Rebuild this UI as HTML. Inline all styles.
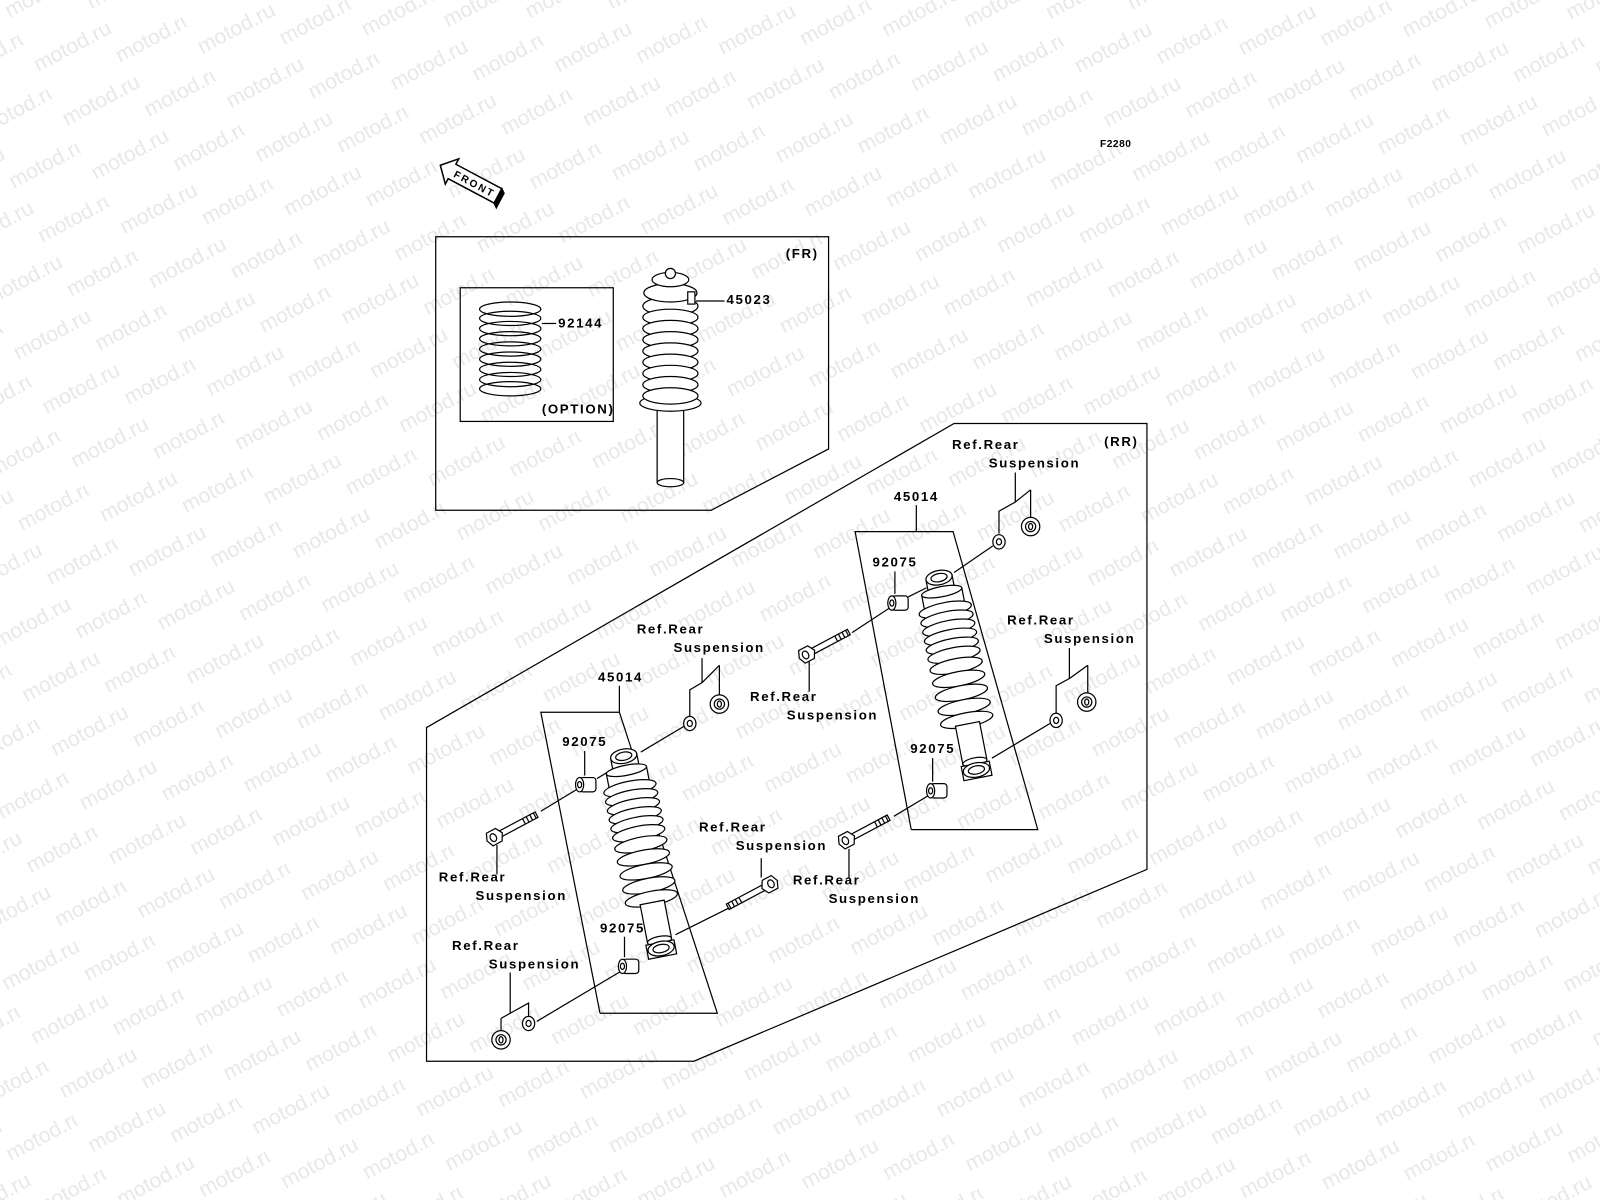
<!DOCTYPE html>
<html><head><meta charset="utf-8"><style>
html,body{margin:0;padding:0;background:#fff;width:1600px;height:1200px;overflow:hidden}
svg{display:block}
.t{font-family:"Liberation Sans",sans-serif;font-weight:bold;font-size:13px;letter-spacing:1.6px;fill:#000}
.wm{font-family:"Liberation Sans",sans-serif;font-size:21px;fill:#e8e8e8}
</style></head><body>
<svg width="1600" height="1200" viewBox="0 0 1568 1176" xmlns="http://www.w3.org/2000/svg">
<defs>
<pattern id="wmp" width="150" height="60" patternUnits="userSpaceOnUse" patternTransform="rotate(-28)">
<text class="wm" x="0" y="20">motod.ru</text>
<text class="wm" x="75" y="50">motod.ru</text>
</pattern>
<g id="shock" fill="#fff" stroke="#000" stroke-width="1.2">
<rect x="-11" y="150" width="22" height="32"/>
<rect x="-13" y="-4" width="26" height="12"/>
<ellipse cx="0" cy="-4" rx="13" ry="7"/>
<ellipse cx="0" cy="-4" rx="8" ry="4"/>
<rect x="-20" y="10" width="40" height="14"/>
<ellipse cx="0" cy="10" rx="20" ry="5"/>
<g>
<ellipse cx="0" cy="28" rx="26" ry="7"/><ellipse cx="0" cy="37" rx="26" ry="7"/>
<ellipse cx="0" cy="46" rx="26" ry="7"/><ellipse cx="0" cy="55" rx="26" ry="7"/>
<ellipse cx="0" cy="64" rx="26" ry="7"/><ellipse cx="0" cy="73" rx="26" ry="7"/>
<ellipse cx="0" cy="84" rx="26" ry="7"/><ellipse cx="0" cy="97" rx="26" ry="7"/>
<ellipse cx="0" cy="111" rx="26" ry="7"/><ellipse cx="0" cy="125" rx="26" ry="7"/>
<ellipse cx="0" cy="138" rx="26" ry="7"/>
</g>
<rect x="-12" y="142" width="24" height="38"/>
<ellipse cx="0" cy="180" rx="12" ry="4"/>
<rect x="-14" y="182" width="28" height="14"/>
<ellipse cx="0" cy="188" rx="13" ry="7"/>
<ellipse cx="0" cy="188" rx="8" ry="4"/>
</g>
<g id="bush" fill="#fff" stroke="#000" stroke-width="1.2">
<rect x="-8" y="-7" width="16" height="14" rx="3"/>
<ellipse cx="-8" cy="0" rx="4" ry="7"/>
<ellipse cx="-8" cy="0" rx="2" ry="3"/>
</g>
<g id="washer" fill="#fff" stroke="#000" stroke-width="1.2">
<ellipse cx="0" cy="0" rx="6" ry="7"/><ellipse cx="0" cy="0" rx="2.5" ry="3"/>
</g>
<g id="nut" fill="#fff" stroke="#000" stroke-width="1.2">
<ellipse cx="0" cy="0" rx="9" ry="9"/><ellipse cx="0" cy="0" rx="5" ry="5"/><ellipse cx="0" cy="0" rx="2" ry="3"/>
</g>
<g id="bolt" fill="#fff" stroke="#000" stroke-width="1.2">
<path d="M0,-3 L44,-3 L44,3 L0,3 Z"/>
<path d="M30,-3 L30,3 M34,-3 L34,3 M38,-3 L38,3 M42,-3 L42,3" />
<polygon points="-8,-7 2,-7 6,0 2,7 -8,7 -11,0"/>
<ellipse cx="-4" cy="0" rx="3" ry="4"/>
</g>
</defs>
<rect width="1568" height="1176" fill="#fff"/>
<rect width="1568" height="1176" fill="url(#wmp)"/>

<!-- FRONT arrow -->
<g transform="translate(458,176) rotate(28)" stroke="#000" stroke-width="1.5">
<polygon points="-30,0 -17,-14 -17,-8 34,-8 34,8 -17,8 -17,14" fill="#fff"/>
<polygon points="34,-8 38,-5 38,11 34,8" fill="#000"/>
<text x="-14" y="4" style="font-family:'Liberation Sans',sans-serif;font-weight:bold;font-size:10px;letter-spacing:2px" stroke="none">FRONT</text>
</g>
<text class="t" x="1078" y="144" style="font-size:10px;letter-spacing:0.5px">F2280</text>

<!-- FR box -->
<polygon points="427,232 812,232 812,440 697,500 427,500" fill="none" stroke="#000" stroke-width="1.2"/>
<rect x="451" y="282" width="150" height="131" fill="none" stroke="#000" stroke-width="1.2"/>
<text class="t" x="770" y="253">(FR)</text>
<text class="t" x="531" y="405">(OPTION)</text>
<g fill="none" stroke="#000" stroke-width="1.2">
<ellipse cx="500" cy="303" rx="30" ry="7"/><ellipse cx="500" cy="312" rx="30" ry="7"/>
<ellipse cx="500" cy="322" rx="30" ry="7"/><ellipse cx="500" cy="332" rx="30" ry="7"/>
<ellipse cx="500" cy="342" rx="30" ry="7"/><ellipse cx="500" cy="352" rx="30" ry="7"/>
<ellipse cx="500" cy="362" rx="30" ry="7"/><ellipse cx="500" cy="372" rx="30" ry="7"/>
<ellipse cx="500" cy="381" rx="30" ry="7"/>
<line x1="531" y1="317" x2="545" y2="317"/>
<line x1="682" y1="295" x2="710" y2="295"/>
</g>
<text class="t" x="547" y="321">92144</text>
<text class="t" x="712" y="298">45023</text>
<!-- FR shock -->
<g fill="#fff" stroke="#000" stroke-width="1.2">
<rect x="644" y="395" width="26" height="78"/>
<ellipse cx="657" cy="473" rx="13" ry="4"/>
<ellipse cx="657" cy="395" rx="30" ry="8"/>
<ellipse cx="657" cy="300" rx="27" ry="9"/><ellipse cx="657" cy="311" rx="27" ry="8"/>
<ellipse cx="657" cy="322" rx="27" ry="8"/><ellipse cx="657" cy="333" rx="27" ry="8"/>
<ellipse cx="657" cy="344" rx="27" ry="8"/><ellipse cx="657" cy="355" rx="27" ry="8"/>
<ellipse cx="657" cy="366" rx="27" ry="8"/><ellipse cx="657" cy="377" rx="27" ry="8"/>
<ellipse cx="657" cy="388" rx="27" ry="8"/>
<ellipse cx="657" cy="287" rx="26" ry="9"/>
<ellipse cx="657" cy="274" rx="18" ry="7"/>
<ellipse cx="657" cy="268" rx="5" ry="5"/>
<rect x="674" y="286" width="7" height="12"/>
</g>

<!-- RR box -->
<polygon points="418,713 935,415 1124,415 1124,852 680,1040 418,1040" fill="none" stroke="#000" stroke-width="1.2"/>
<text class="t" x="1082" y="437">(RR)</text>

<g fill="none" stroke="#000" stroke-width="1.2">
<polyline points="588,993 530,698 607,698 703,993 588,993"/>
<line x1="607" y1="672" x2="607" y2="698"/>
<polyline points="893,813 838,521 934,521 1017,813 893,813"/>
<line x1="898" y1="495" x2="898" y2="521"/>
<line x1="573" y1="736" x2="573" y2="760"/>
<line x1="612" y1="918" x2="612" y2="938"/>
<line x1="877" y1="560" x2="877" y2="582"/>
<line x1="914" y1="743" x2="914" y2="766"/>
<line x1="530" y1="795" x2="568" y2="772"/>
<line x1="585" y1="763" x2="600" y2="754"/>
<line x1="628" y1="737" x2="670" y2="712"/>
<line x1="526" y1="1001" x2="610" y2="951"/>
<line x1="662" y1="916" x2="714" y2="890"/>
<line x1="835" y1="620" x2="873" y2="595"/>
<line x1="890" y1="585" x2="908" y2="576"/>
<line x1="935" y1="561" x2="973" y2="535"/>
<line x1="876" y1="800" x2="911" y2="779"/>
<line x1="972" y1="743" x2="1029" y2="709"/>
<line x1="487" y1="828" x2="487" y2="857"/>
<line x1="793" y1="648" x2="793" y2="678"/>
<line x1="746" y1="841" x2="746" y2="860"/>
<line x1="832" y1="832" x2="832" y2="860"/>
<polyline points="676,703 676,676 688,669 688,645"/><line x1="688" y1="669" x2="705" y2="652"/><line x1="705" y1="652" x2="705" y2="684"/>
<polyline points="979,523 979,501 995,492 995,463"/><line x1="995" y1="492" x2="1010" y2="480"/><line x1="1010" y1="480" x2="1010" y2="508"/>
<polyline points="1035,700 1035,672 1048,665 1048,635"/><line x1="1048" y1="665" x2="1066" y2="652"/><line x1="1066" y1="652" x2="1066" y2="680"/>
<polyline points="518,996 518,983 500,993 500,953"/><line x1="500" y1="993" x2="491" y2="998"/><line x1="491" y1="998" x2="491" y2="1012"/>
</g>

<use href="#shock" transform="translate(612,745) rotate(-11)"/>
<use href="#shock" transform="translate(921,570) rotate(-11)"/>

<use href="#bush" transform="translate(576,769)"/>
<use href="#bush" transform="translate(618,947)"/>
<use href="#bush" transform="translate(882,591)"/>
<use href="#bush" transform="translate(920,775)"/>
<use href="#washer" transform="translate(676,709)"/>
<use href="#nut" transform="translate(705,690)"/>
<use href="#washer" transform="translate(979,531)"/>
<use href="#nut" transform="translate(1010,516)"/>
<use href="#washer" transform="translate(1035,706)"/>
<use href="#nut" transform="translate(1065,688)"/>
<use href="#washer" transform="translate(518,1003)"/>
<use href="#nut" transform="translate(491,1019)"/>
<use href="#bolt" transform="translate(487,819) rotate(-28)"/>
<use href="#bolt" transform="translate(793,640) rotate(-28)"/>
<use href="#bolt" transform="translate(832,822) rotate(-28)"/>
<use href="#bolt" transform="translate(752,868) rotate(152)"/>

<text class="t" x="586" y="668">45014</text>
<text class="t" x="876" y="491">45014</text>
<text class="t" x="551" y="731">92075</text>
<text class="t" x="588" y="914">92075</text>
<text class="t" x="855" y="555">92075</text>
<text class="t" x="892" y="738">92075</text>
<text class="t" x="933" y="440">Ref.Rear</text><text class="t" x="969" y="458">Suspension</text>
<text class="t" x="624" y="621">Ref.Rear</text><text class="t" x="660" y="639">Suspension</text>
<text class="t" x="735" y="687">Ref.Rear</text><text class="t" x="771" y="705">Suspension</text>
<text class="t" x="987" y="612">Ref.Rear</text><text class="t" x="1023" y="630">Suspension</text>
<text class="t" x="685" y="815">Ref.Rear</text><text class="t" x="721" y="833">Suspension</text>
<text class="t" x="777" y="867">Ref.Rear</text><text class="t" x="812" y="885">Suspension</text>
<text class="t" x="430" y="864">Ref.Rear</text><text class="t" x="466" y="882">Suspension</text>
<text class="t" x="443" y="931">Ref.Rear</text><text class="t" x="479" y="949">Suspension</text>
</svg>
</body></html>
